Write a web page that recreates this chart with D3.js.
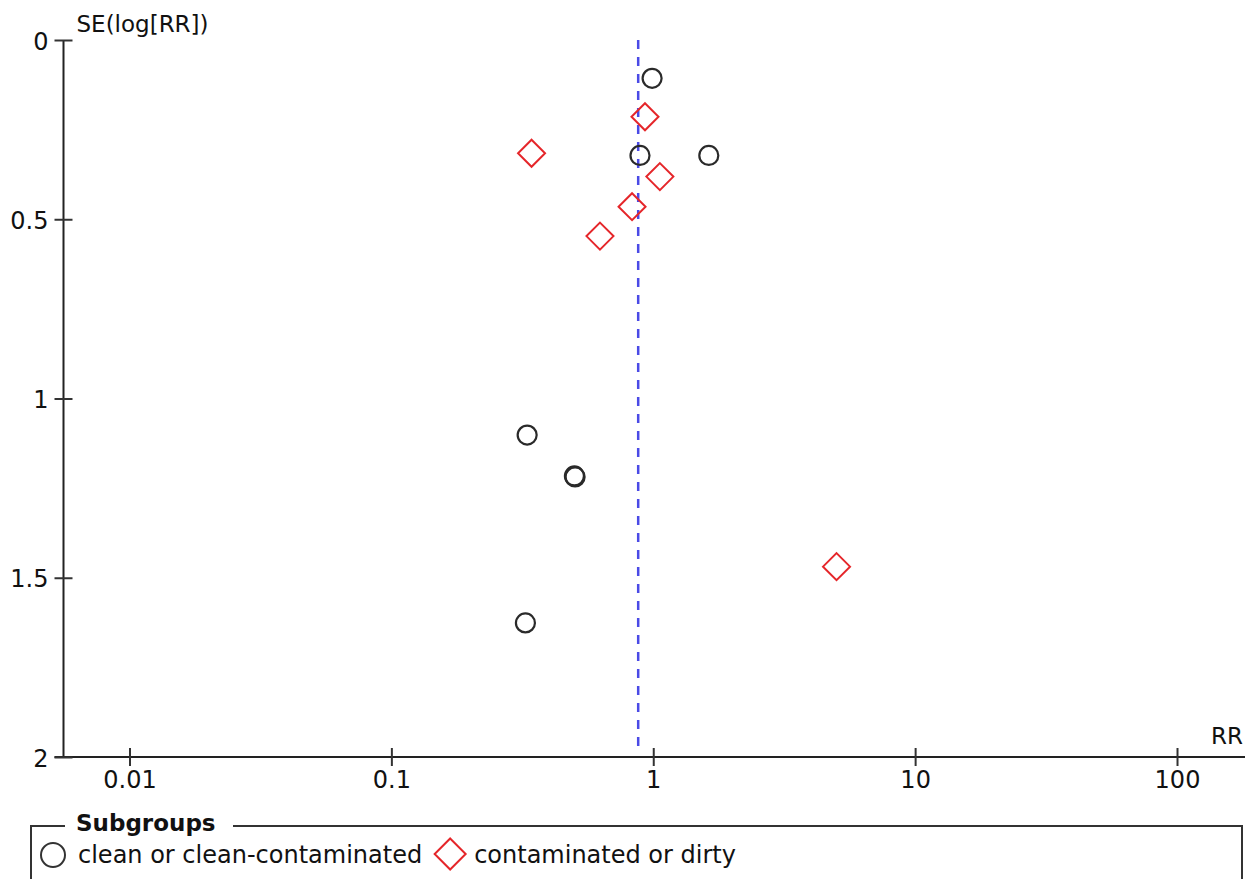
<!DOCTYPE html>
<html>
<head>
<meta charset="utf-8">
<script src="https://cdn.jsdelivr.net/npm/d3@7"></script>
<style>
  html, body { margin: 0; padding: 0; background: #fff; }
  svg { display: block; }
  text { font-family: "DejaVu Sans", sans-serif; fill: #111; }
</style>
</head>
<body>
<svg id="chart" width="1245" height="879"></svg>
<script>
// ---- data ----
const cleanRR = [0.99, 0.89, 1.63, 0.33, 0.50, 0.503, 0.325];
const cleanSE = [0.107, 0.322, 0.322, 1.102, 1.216, 1.219, 1.626];
const dirtyRR = [0.93, 0.343, 1.06, 0.83, 0.626, 5.01];
const dirtySE = [0.214, 0.316, 0.381, 0.465, 0.547, 1.469];
const pooledRR = 0.876;
const xTickValues = [0.01, 0.1, 1, 10, 100];
const xTickLabels = ["0.01", "0.1", "1", "10", "100"];
const yTickValues = [0, 0.5, 1, 1.5, 2];
const yTickLabels = ["0", "0.5", "1", "1.5", "2"];
const legendLabels = ["clean or clean-contaminated", "contaminated or dirty"];
const xTitle = "RR";
const yTitle = "SE(log[RR])";
const legendTitle = "Subgroups";

// ---- layout ----
(function () {
const svg = d3.select("#chart");
const pLeft = 63.5, pRight = 1243, pTop = 40, pBottom = 757;
const FS = 23, TFS = 24;

const x = d3.scaleLog().domain([Math.pow(10, -2.252), Math.pow(10, 2.252)]).range([pLeft, pRight]);
const y = d3.scaleLinear().domain([0, 2]).range([pTop, pBottom]);

// x axis
const xAxis = d3.axisBottom(x).tickValues(xTickValues)
  .tickFormat((d, i) => xTickLabels[i]).tickSizeOuter(0);
const gx = svg.append("g").attr("transform", `translate(0,${pBottom})`).call(xAxis);
gx.select(".domain").attr("d", `M${pLeft - 9},0H${pRight + 2}`).attr("stroke", "#222").attr("stroke-width", 2);
gx.selectAll(".tick line").attr("y1", -9).attr("y2", 9).attr("stroke", "#333").attr("stroke-width", 2);
gx.selectAll(".tick text").attr("y", 31).attr("dy", null)
  .style("font-size", TFS + "px").style("font-family", "DejaVu Sans").attr("fill", "#111");

// y axis
const yAxis = d3.axisLeft(y).tickValues(yTickValues)
  .tickFormat((d, i) => yTickLabels[i]).tickSizeOuter(0);
const gy = svg.append("g").attr("transform", `translate(${pLeft},0)`).call(yAxis);
gy.select(".domain").attr("d", `M0,${pTop}V${pBottom}`).attr("stroke", "#222").attr("stroke-width", 2);
gy.selectAll(".tick line").attr("x1", -9).attr("x2", 9).attr("stroke", "#333").attr("stroke-width", 2);
gy.selectAll(".tick text").attr("x", -15).attr("dy", "0.38em")
  .style("font-size", TFS + "px").style("font-family", "DejaVu Sans").attr("fill", "#111");

// axis titles
svg.append("text").attr("x", pLeft + 13).attr("y", 32).style("font-size", FS + "px").text(yTitle);
svg.append("text").attr("x", pRight).attr("y", pBottom - 13).attr("text-anchor", "end")
  .style("font-size", FS + "px").text(xTitle);

// pooled estimate line
svg.append("line")
  .attr("x1", x(pooledRR)).attr("x2", x(pooledRR))
  .attr("y1", y(0)).attr("y2", y(2) - 6)
  .attr("stroke", "#4a4ae6").attr("stroke-width", 2.5)
  .attr("stroke-dasharray", "9,8");

// clean circles
const cleanData = cleanRR.map((v, i) => ({ rr: v, se: cleanSE[i] }));
svg.append("g").selectAll("circle").data(cleanData).join("circle")
  .attr("cx", d => x(d.rr)).attr("cy", d => y(d.se)).attr("r", 9.5)
  .attr("fill", "none").attr("stroke", "#2a2a2a").attr("stroke-width", 2.2);

// dirty diamonds
const dirtyData = dirtyRR.map((v, i) => ({ rr: v, se: dirtySE[i] }));
const dsz = 13.5;
svg.append("g").selectAll("path").data(dirtyData).join("path")
  .attr("d", d => {
    const cx = x(d.rr), cy = y(d.se);
    return `M${cx},${cy - dsz}L${cx + dsz},${cy}L${cx},${cy + dsz}L${cx - dsz},${cy}Z`;
  })
  .attr("fill", "none").attr("stroke", "#e5262a").attr("stroke-width", 2);

// legend
const lg = svg.append("g");
const boxL = 31, boxT = 826, boxR = 1242, boxB = 900;
lg.append("path")
  .attr("d", `M65,${boxT}H${boxL}V${boxB}M233,${boxT}H${boxR}V${boxB}`)
  .attr("fill", "none").attr("stroke", "#333").attr("stroke-width", 2);
lg.append("text").attr("x", 76).attr("y", 831).style("font-size", "23px")
  .style("font-weight", "bold").text(legendTitle);

lg.append("circle").attr("cx", 53).attr("cy", 855).attr("r", 12)
  .attr("fill", "none").attr("stroke", "#333").attr("stroke-width", 2);
const t1 = lg.append("text").attr("x", 78).attr("y", 863).style("font-size", TFS + "px").text(legendLabels[0]);
const t1end = 78 + t1.node().getComputedTextLength();
const lx = t1end + 28, ly = 854, ls = 15.5;
lg.append("path")
  .attr("d", `M${lx},${ly - ls}L${lx + ls},${ly}L${lx},${ly + ls}L${lx - ls},${ly}Z`)
  .attr("fill", "none").attr("stroke", "#e5262a").attr("stroke-width", 2);
lg.append("text").attr("x", lx + 24).attr("y", 863).style("font-size", TFS + "px").text(legendLabels[1]);
})();
</script>
</body>
</html>
